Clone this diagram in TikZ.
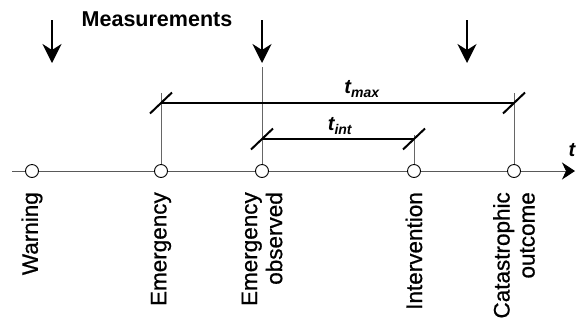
\documentclass[tikz,border=0pt]{standalone}
\usepackage{fontspec}
\setmainfont{Liberation Sans}
\newfontfamily\lblfont[FakeBold=0.7]{Liberation Sans}
\usetikzlibrary{arrows.meta}
\begin{document}
\begin{tikzpicture}[x=1pt,y=-1pt,
  event/.style={circle,draw=black,fill=white,line width=0.9pt,minimum size=13pt,inner sep=0pt},
  lbl/.style={rotate=90,anchor=east,align=right,font=\lblfont\fontsize{22.5}{25}\selectfont,inner sep=0pt},
  guide/.style={draw=gray!80!black,line width=0.8pt},
  bar/.style={line width=2pt},
  tick/.style={line width=2pt},
  meas/.style={line width=1.8pt,-{Stealth[length=19pt,width=19pt,inset=6pt]}},
  tlbl/.style={font=\fontsize{20}{22}\selectfont\bfseries\itshape,inner sep=0pt}]
\useasboundingbox (0,0) rectangle (577,325);
% axis
\coordinate (a0) at (12,171);
\coordinate (a1) at (575,171);
\draw[draw=gray!70!black,line width=0.9pt,-{Stealth[length=13pt,width=17pt,inset=4pt,color=black]}] (a0) -- (a1);
\node[tlbl] (tt) at (572,150) {t};
% guides
\coordinate (g1) at (161,93);
\coordinate (g2) at (262,67);
\coordinate (g3) at (414,135);
\coordinate (g4) at (514,93);
\node[event] (w) at (32,171) {};
\node[event] (e) at (161,171) {};
\node[event] (eo) at (262,171) {};
\node[event] (iv) at (414,171) {};
\node[event] (co) at (514,171) {};
\draw[guide] (g1) -- (e);
\draw[guide] (g2) -- (eo);
\draw[guide] (g3) -- (iv);
\draw[guide] (g4) -- (co);
% bars
\coordinate (m0) at (161,103);
\coordinate (m1) at (514,103);
\coordinate (i0) at (262,139);
\coordinate (i1) at (414,139);
\draw[bar] (m0) -- (m1);
\draw[bar] (i0) -- (i1);
\foreach \p in {m0,m1,i0,i1}{
  \draw[tick] ([shift={(-11,10.5)}]\p) -- ([shift={(11,-10.5)}]\p);
}
\node[tlbl] (tmax) at (362,89) {t\textsubscript{max}};
\node[tlbl] (tint) at (340,126) {t\textsubscript{int}};
% measurement arrows
\coordinate (d1s) at (52,20);  \coordinate (d1e) at (52,63);
\coordinate (d2s) at (262,20); \coordinate (d2e) at (262,63);
\coordinate (d3s) at (467,20); \coordinate (d3e) at (467,63);
\draw[meas] (d1s) -- (d1e);
\draw[meas] (d2s) -- (d2e);
\draw[meas] (d3s) -- (d3e);
\node[font=\fontsize{21.5}{24}\selectfont\bfseries,inner sep=0pt] (meas) at (157,19) {Measurements};
% labels
\node[lbl] (lw) at (32,192) {Warning};
\node[lbl] (le) at (161,192) {Emergency};
\node[lbl] (leo) at (262,192) {Emergency\\observed};
\node[lbl] (liv) at (414,192) {Intervention};
\node[lbl] (lco) at (514,192) {Catastrophic\\outcome};
\end{tikzpicture}
\end{document}
